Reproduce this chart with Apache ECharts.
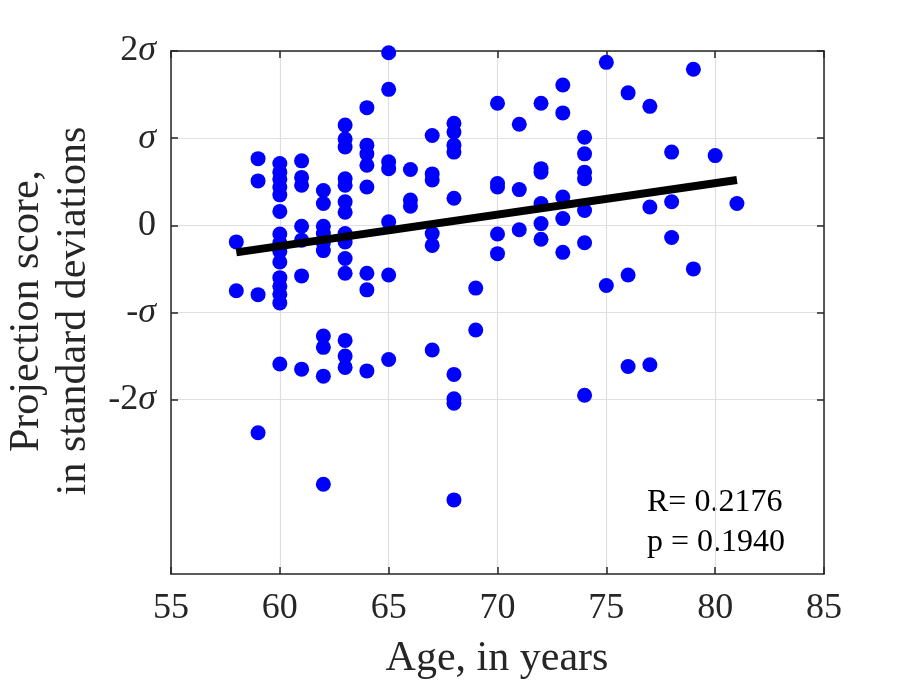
<!DOCTYPE html>
<html>
<head>
<meta charset="utf-8">
<script src="https://cdn.jsdelivr.net/npm/echarts@6/dist/echarts.min.js"></script>
<style>
  html, body { margin: 0; padding: 0; background: #fff; }
  #chart { width: 910px; height: 681px; }
</style>
</head>
<body>
<div id="chart"></div>
<script>
// Each point: age (years) and projection score (in sd units), read column by column.
const ages = [
  58, 58,
  59, 59, 59, 59,
  60, 60, 60, 60, 60, 60, 60, 60, 60, 60, 60, 60, 60, 60, 60,
  61, 61, 61, 61, 61, 61, 61,
  62, 62, 62, 62, 62, 62, 62, 62, 62, 62,
  63, 63, 63, 63, 63, 63, 63, 63, 63, 63, 63, 63, 63, 63,
  64, 64, 64, 64, 64, 64, 64, 64,
  65, 65, 65, 65, 65, 65, 65,
  66, 66, 66,
  67, 67, 67, 67, 67, 67,
  68, 68, 68, 68, 68, 68, 68, 68, 68,
  69, 69,
  70, 70, 70, 70, 70,
  71, 71, 71,
  72, 72, 72, 72, 72, 72,
  73, 73, 73, 73, 73,
  74, 74, 74, 74, 74, 74, 74,
  75, 75,
  76, 76, 76,
  77, 77, 77,
  78, 78, 78,
  79, 79,
  80,
  81
];
const scores = [
  -0.19, -0.75,
  0.765, 0.51, -0.795, -2.38,
  0.71, 0.61, 0.53, 0.44, 0.35, 0.16, -0.10, -0.20, -0.30, -0.42, -0.60, -0.70, -0.79, -0.89, -1.59,
  0.74, 0.55, 0.46, -0.01, -0.17, -0.58, -1.65,
  0.40, 0.25, -0.01, -0.095, -0.20, -0.29, -1.27, -1.40, -1.73, -2.97,
  1.15, 0.99, 0.90, 0.535, 0.46, 0.27, 0.15, -0.095, -0.19, -0.38, -0.55, -1.32, -1.50, -1.63,
  1.35, 0.92, 0.82, 0.69, 0.44, -0.55, -0.74, -1.67,
  1.98, 1.56, 0.73, 0.65, 0.04, -0.57, -1.54,
  0.64, 0.29, 0.22,
  1.03, 0.59, 0.52, -0.095, -0.23, -1.43,
  1.17, 1.07, 0.92, 0.84, 0.31, -1.71, -1.99, -2.04, -3.15,
  -0.72, -1.20,
  1.40, 0.48, 0.44, -0.10, -0.325,
  1.16, 0.41, -0.05,
  1.40, 0.65, 0.61, 0.25, 0.02, -0.16,
  1.61, 1.29, 0.325, 0.077, -0.31,
  1.01, 0.82, 0.61, 0.535, 0.17, -0.20, -1.95,
  1.87, -0.69,
  1.52, -0.57, -1.62,
  1.365, 0.21, -1.60,
  0.84, 0.27, -0.14,
  1.79, -0.50,
  0.80,
  0.25
];
// least-squares fit drawn between the youngest and oldest age
const fitAges = [58, 81];
const fitScores = [-0.31, 0.52];

const xTicks = [55, 60, 65, 70, 75, 80, 85];
const yTicks = [-2, -1, 0, 1, 2];
const yTickLabels = ['-2σ', '-σ', '0', 'σ', '2σ'];
const stats = ['R= 0.2176', 'p = 0.1940'];

const FONT = '"Liberation Serif", "Times New Roman", serif';
const AXIS = '#262626';

function yLabel(v) {
  const s = yTickLabels[yTicks.indexOf(Math.round(v))];
  if (!s) return '';
  // sigma is italic, the number and sign are upright
  return s.replace(/^([-\d]*)(σ?)$/, (m, a, b) => (a ? '{n|' + a + '}' : '') + (b ? '{s|σ}' : ''));
}

const chart = echarts.init(document.getElementById('chart'), null, { renderer: 'canvas' });

const baseX = {
  type: 'value', min: xTicks[0], max: xTicks[xTicks.length - 1], interval: 5,
  axisLine: { show: true, onZero: false, lineStyle: { color: AXIS, width: 1.5 } },
  axisTick: { show: true, inside: true, length: 7, lineStyle: { color: AXIS, width: 1.5 } },
};
const baseY = {
  type: 'value', min: -4, max: 2,
  axisLine: { show: true, onZero: false, lineStyle: { color: AXIS, width: 1.5 } },
  axisTick: { show: true, inside: true, length: 7, customValues: yTicks, lineStyle: { color: AXIS, width: 1.5 } },
};

chart.setOption({
  animation: false,
  backgroundColor: '#fff',
  grid: { left: 171, right: 86, top: 51, bottom: 107 },
  xAxis: [
    Object.assign({}, baseX, {
      position: 'bottom',
      axisLabel: { color: '#262626', fontFamily: FONT, fontSize: 36, margin: 17 },
      splitLine: { show: true, lineStyle: { color: '#dfdfdf', width: 1.2 } },
    }),
    Object.assign({}, baseX, {
      position: 'top',
      axisLabel: { show: false },
      splitLine: { show: false },
    }),
  ],
  yAxis: [
    Object.assign({}, baseY, {
      position: 'left',
      axisLabel: {
        customValues: yTicks, margin: 15, formatter: yLabel,
        rich: {
          n: { color: '#262626', fontFamily: FONT, fontSize: 36 },
          s: { color: '#262626', fontFamily: FONT, fontSize: 36, fontStyle: 'italic' },
        },
      },
      splitLine: { show: true, lineStyle: { color: '#dfdfdf', width: 1.2 } },
    }),
    Object.assign({}, baseY, {
      position: 'right',
      axisLabel: { show: false },
      splitLine: { show: false },
    }),
  ],
  graphic: [
    {
      type: 'text', x: 50, y: 311, rotation: Math.PI / 2,
      style: {
        text: 'Projection score,\nin standard deviations',
        fill: '#262626', font: '42px ' + FONT, lineHeight: 47,
        align: 'center', verticalAlign: 'middle',
      },
    },
    {
      type: 'text', x: 497, y: 659,
      style: {
        text: 'Age, in years', fill: '#262626', font: '42px ' + FONT,
        align: 'center', verticalAlign: 'middle',
      },
    },
    {
      type: 'text', x: 647, y: 523,
      style: {
        text: stats.join('\n'), fill: '#000', font: '32px ' + FONT, lineHeight: 40,
        align: 'left', verticalAlign: 'middle',
      },
    },
  ],
  series: [
    {
      name: 'Scores', type: 'scatter', xAxisIndex: 0, yAxisIndex: 0,
      symbol: 'circle', symbolSize: 15,
      itemStyle: { color: '#0000ff', opacity: 1 },
      data: ages.map((a, i) => [a, scores[i]]),
      z: 3,
    },
    {
      name: 'Fit', type: 'line', xAxisIndex: 0, yAxisIndex: 0,
      showSymbol: false, symbol: 'none',
      lineStyle: { color: '#000', width: 8, cap: 'butt' },
      data: fitAges.map((a, i) => [a, fitScores[i]]),
      z: 4,
    },
  ],
});
</script>
</body>
</html>
